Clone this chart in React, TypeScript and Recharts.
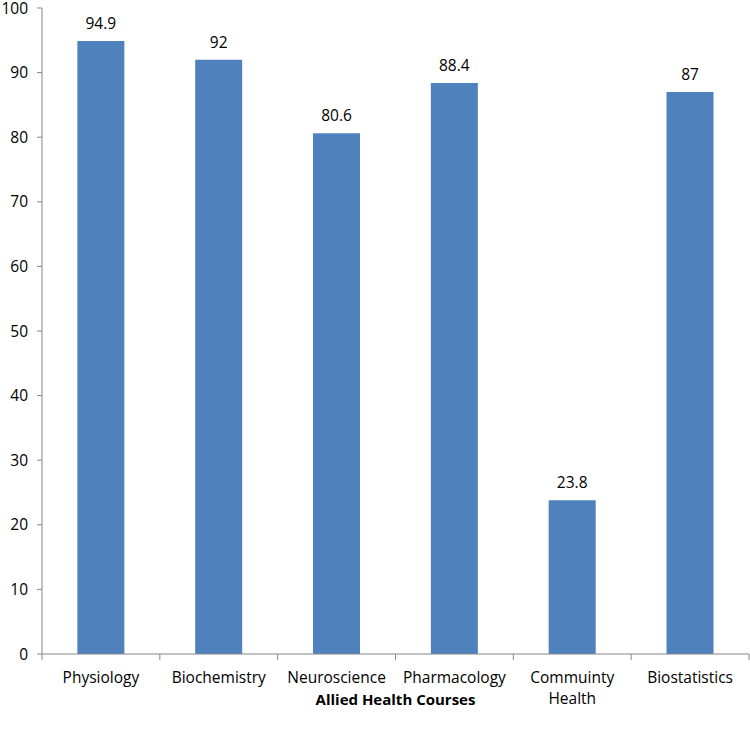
import { Bar, BarChart, LabelList, Label, Text, XAxis, YAxis } from "recharts";

const courses = ["Physiology", "Biochemistry", "Neuroscience", "Pharmacology", "Commuinty Health", "Biostatistics"];
const scores = [94.9, 92, 80.6, 88.4, 23.8, 87];
const yTicks = [0, 10, 20, 30, 40, 50, 60, 70, 80, 90, 100];

const data = courses.map((name, i) => ({ name, value: scores[i] }));

const AXIS = "#868686";
const FONT = "'Open Sans', sans-serif";
const FS = 15.5;
const TICK_SIZE = 6;
const TICK_MARGIN = 12;

// category axis: ticks sit on the band boundaries, labels in the middle
function CourseTick(props: any) {
  const { x, y, payload, index } = props;
  const half = payload?.offset ?? 0;
  const axisY = y - TICK_SIZE - TICK_MARGIN;
  return (
    <g>
      <line x1={x - half} x2={x - half} y1={axisY} y2={axisY + TICK_SIZE} stroke={AXIS} />
      {index === courses.length - 1 && (
        <line x1={x + half} x2={x + half} y1={axisY} y2={axisY + TICK_SIZE} stroke={AXIS} />
      )}
      <Text
        x={x}
        y={y}
        width={105}
        textAnchor="middle"
        verticalAnchor="start"
        lineHeight={21}
        fontSize={FS}
        fontFamily={FONT}
        fill="#000"
      >
        {payload.value}
      </Text>
    </g>
  );
}

export default function App() {
  return (
    <div style={{ position: "absolute", left: 0, top: 0, background: "#fff" }}>
      <BarChart
        width={750}
        height={733}
        data={data}
        margin={{ top: 8, right: 1, left: 0, bottom: 0 }}
        barCategoryGap="30%"
      >
        <XAxis
          dataKey="name"
          height={79}
          interval={0}
          tickLine={false}
          tickSize={TICK_SIZE}
          tickMargin={TICK_MARGIN}
          axisLine={{ stroke: AXIS }}
          tick={<CourseTick />}
        >
          <Label
            value="Allied Health Courses"
            position="insideBottom"
            offset={28}
            fontSize={15}
            fontWeight="bold"
            fontFamily={FONT}
            fill="#000"
          />
        </XAxis>
        <YAxis
          width={42}
          domain={[0, 100]}
          ticks={yTicks}
          interval={0}
          tickSize={5}
          tickMargin={9}
          axisLine={{ stroke: AXIS }}
          tickLine={{ stroke: AXIS }}
          tick={{ fontSize: FS, fontFamily: FONT, fill: "#000" }}
        />
        <Bar dataKey="value" fill="#4F81BD" isAnimationActive={false}>
          <LabelList
            dataKey="value"
            position="top"
            offset={12}
            fontSize={FS}
            fontFamily={FONT}
            fill="#000"
          />
        </Bar>
      </BarChart>
    </div>
  );
}
